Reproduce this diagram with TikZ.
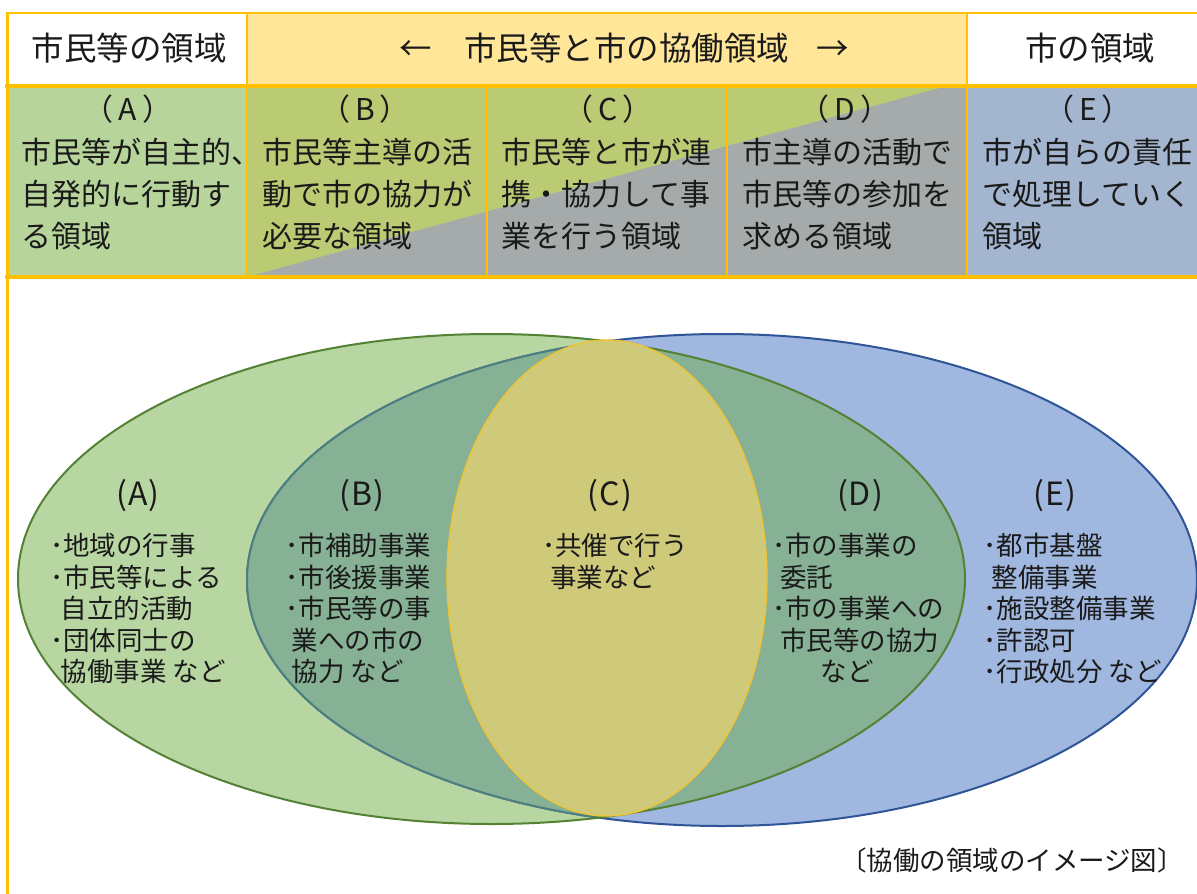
\documentclass[tikz,border=0pt]{standalone}
\usepackage{fontspec}
\setmainfont{Noto Sans CJK JP}
\definecolor{frameor}{HTML}{FFC000}
\definecolor{hdryel}{HTML}{FFE699}
\definecolor{cellA}{HTML}{B7D59B}
\definecolor{cellG}{HTML}{BACB73}
\definecolor{cellGr}{HTML}{A5AAAB}
\definecolor{cellE}{HTML}{A3B5CF}
\definecolor{egreen}{HTML}{B8D6A2}
\definecolor{eblue}{HTML}{A0B7DF}
\definecolor{eover}{HTML}{87B195}
\definecolor{eyel}{HTML}{CFCA7A}
\definecolor{egreenln}{HTML}{548235}
\definecolor{eblueln}{HTML}{2F5597}
\definecolor{etealln}{HTML}{4D7F80}
\definecolor{eyelln}{HTML}{F2C230}
\definecolor{txt}{HTML}{1A1A1A}
\newcommand{\rowL}[1]{（\kern5pt #1\kern5pt）}
\newcommand{\ellL}[1]{(\kern1pt #1\kern1pt)}
\tikzset{
  frm/.style={draw=frameor, line cap=rect},
  hdr/.style={font=\fontsize{32.5}{39}\selectfont, inner sep=0pt, anchor=base, text=txt},
  rowlbl/.style={font=\fontsize{30}{36}\selectfont, inner sep=0pt, anchor=base, text=txt},
  rowtxt/.style={font=\fontsize{30}{36}\selectfont, inner sep=0pt, anchor=base west, text=txt},
  elbl/.style={font=\fontsize{32}{38}\selectfont, inner sep=0pt, anchor=base, text=txt},
  etxt/.style={font=\fontsize{26.5}{32}\selectfont, inner sep=0pt, anchor=base west, text=txt},
  ectr/.style={font=\fontsize{26.5}{32}\selectfont, inner sep=0pt, anchor=base, text=txt},
  captxt/.style={font=\fontsize{26.5}{32}\selectfont, inner sep=0pt, anchor=base, text=txt},
}
\begin{document}
\begin{tikzpicture}[x=1pt,y=-1pt]
\useasboundingbox (0,0) rectangle (1197,894);
\fill[white] (0,0) rectangle (1197,894);
% ---------- table cells ----------
\fill[hdryel] (247,13) rectangle (967,86);
\fill[cellA] (7,86) rectangle (247,277);
\fill[cellG] (247,86) rectangle (967,277);
\fill[cellGr] (247,277) -- (947,86) -- (967,86) -- (967,277) -- cycle;
\fill[cellE] (967,86) rectangle (1197,277);
% ---------- table lines ----------
\draw[frm, line width=2.5pt] (7,13) -- (1197,13);
\draw[frm, line width=4pt] (7,86) -- (1197,86);
\draw[frm, line width=3.5pt] (7,277) -- (1197,277);
\draw[frm, line width=3pt] (7,13) -- (7,894);
\draw[frm, line width=2.5pt] (247,13) -- (247,277);
\draw[frm, line width=2.5pt] (967,13) -- (967,277);
\draw[frm, line width=2pt] (487,86) -- (487,277);
\draw[frm, line width=2pt] (727,86) -- (727,277);
% ---------- header texts ----------
\node[hdr] (h1) at (129,60) {市民等の領域};
\node[hdr] (harrl) at (416,60) {←};
\node[hdr] (h2) at (626.5,60) {市民等と市の協働領域};
\node[hdr] (harrr) at (833,60) {→};
\node[hdr] (h3) at (1090,60) {市の領域};
% ---------- row 2 texts ----------
\node[rowlbl] (ra) at (128,120) {\rowL{A}};
\node[rowtxt] (ra1) at (21.5,163.5) {市民等が自主的、};
\node[rowtxt] (ra2) at (21.5,205.5) {自発的に行動す};
\node[rowtxt] (ra3) at (21.5,247.5) {る領域};
\node[rowlbl] (rb) at (365,120) {\rowL{B}};
\node[rowtxt] (rb1) at (262.5,163.5) {市民等主導の活};
\node[rowtxt] (rb2) at (262.5,205.5) {動で市の協力が};
\node[rowtxt] (rb3) at (262.5,247.5) {必要な領域};
\node[rowlbl] (rc) at (608,120) {\rowL{C}};
\node[rowtxt] (rc1) at (501.5,163.5) {市民等と市が連};
\node[rowtxt] (rc2) at (501.5,205.5) {携・協力して事};
\node[rowtxt] (rc3) at (501.5,247.5) {業を行う領域};
\node[rowlbl] (rd) at (845,120) {\rowL{D}};
\node[rowtxt] (rd1) at (742.5,163.5) {市主導の活動で};
\node[rowtxt] (rd2) at (742.5,205.5) {市民等の参加を};
\node[rowtxt] (rd3) at (742.5,247.5) {求める領域};
\node[rowlbl] (re) at (1088,120) {\rowL{E}};
\node[rowtxt] (re1) at (982.5,163.5) {市が自らの責任};
\node[rowtxt] (re2) at (982.5,205.5) {で処理していく};
\node[rowtxt] (re3) at (982.5,247.5) {領域};
% ---------- ellipses ----------
\fill[eblue] (722,580) ellipse [x radius=475pt, y radius=246pt];
\fill[egreen] (491.5,579) ellipse [x radius=473.5pt, y radius=245pt];
\draw[eblueln, line width=2pt] (722,580) ellipse [x radius=475pt, y radius=246pt];
\begin{scope}
  \clip (491.5,579) ellipse [x radius=473.5pt, y radius=245pt];
  \fill[eover] (722,580) ellipse [x radius=475pt, y radius=246pt];
  \draw[etealln, line width=2pt] (722,580) ellipse [x radius=475pt, y radius=246pt];
\end{scope}
\draw[egreenln, line width=2pt] (491.5,579) ellipse [x radius=473.5pt, y radius=245pt];
\draw[fill=eyel, draw=eyelln, line width=1.3pt] (607,578) ellipse [x radius=160pt, y radius=238pt];
% ---------- ellipse texts ----------
\node[elbl] (ea) at (138,505) {\ellL{A}};
\node[etxt] (ea1) at (50,555) {･地域の行事};
\node[etxt] (ea2) at (50,587) {･市民等による};
\node[etxt] (ea3) at (60.5,618) {自立的活動};
\node[etxt] (ea4) at (50,650) {･団体同士の};
\node[etxt] (ea5) at (60.5,681) {協働事業 など};
\node[elbl] (eb) at (362,505) {\ellL{B}};
\node[etxt] (eb1) at (285.5,555) {･市補助事業};
\node[etxt] (eb2) at (285.5,587) {･市後援事業};
\node[etxt] (eb3) at (285.5,618) {･市民等の事};
\node[etxt] (eb4) at (291.5,650) {業への市の};
\node[etxt] (eb5) at (291.5,681) {協力 など};
\node[elbl] (ec) at (610,505) {\ellL{C}};
\node[etxt] (ec1) at (542,555) {･共催で行う};
\node[etxt] (ec2) at (550,587) {事業など};
\node[elbl] (ed) at (860,505) {\ellL{D}};
\node[etxt] (ed1) at (772,555) {･市の事業の};
\node[etxt] (ed2) at (780,587) {委託};
\node[etxt] (ed3) at (772,618) {･市の事業への};
\node[etxt] (ed4) at (780,650) {市民等の協力};
\node[ectr] (ed5) at (847,681) {など};
\node[elbl] (ee) at (1055,505) {\ellL{E}};
\node[etxt] (ee1) at (983.5,555) {･都市基盤};
\node[etxt] (ee2) at (991.5,587) {整備事業};
\node[etxt] (ee3) at (983.5,618) {･施設整備事業};
\node[etxt] (ee4) at (983.5,650) {･許認可};
\node[etxt] (ee5) at (983.5,681) {･行政処分 など};
% ---------- caption ----------
\node[captxt] (cap) at (1012,870) {〔協働の領域のイメージ図〕};
\end{tikzpicture}
\end{document}
